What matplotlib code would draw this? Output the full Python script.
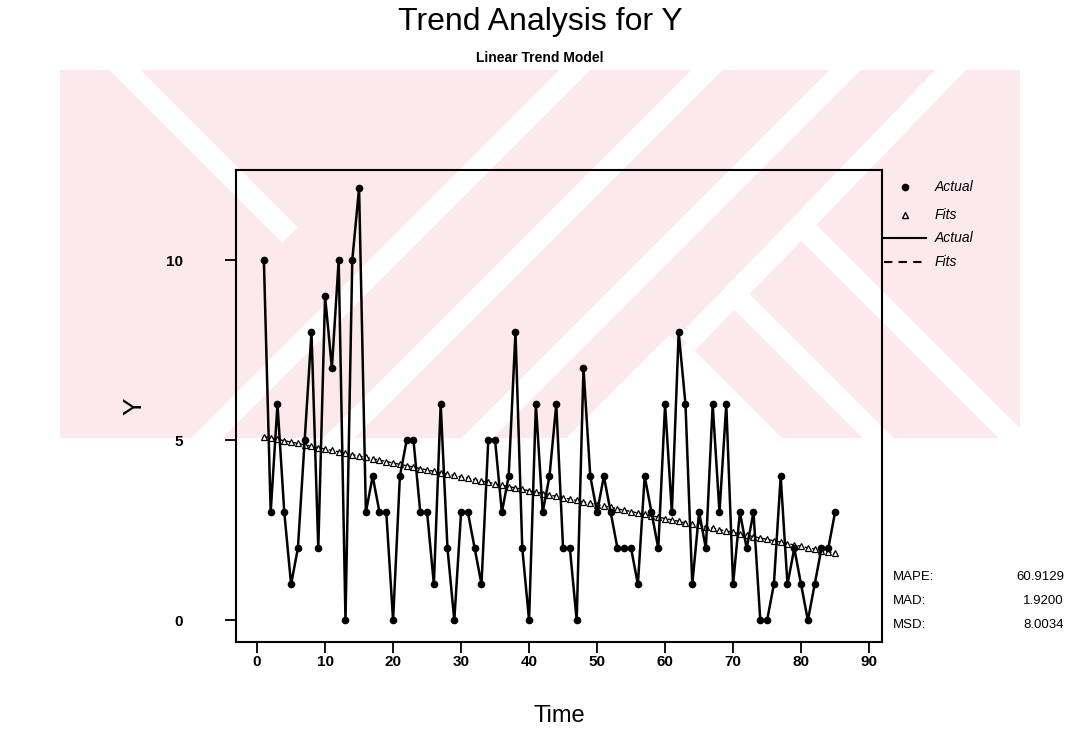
import numpy as np
import matplotlib.pyplot as plt
from matplotlib.lines import Line2D
from matplotlib.patches import Polygon, Rectangle

# observations (Y) by time index
time = np.arange(1, 86)
actual = [10, 3, 6, 3, 1, 2, 5, 8, 2, 9,
          7, 10, 0, 10, 12, 3, 4, 3, 3, 0,
          4, 5, 5, 3, 3, 1, 6, 2, 0, 3,
          3, 2, 1, 5, 5, 3, 4, 8, 2, 0,
          6, 3, 4, 6, 2, 2, 0, 7, 4, 3,
          4, 3, 2, 2, 2, 1, 4, 3, 2, 6,
          3, 8, 6, 1, 3, 2, 6, 3, 6, 1,
          3, 2, 3, 0, 0, 1, 4, 1, 2, 1,
          0, 1, 2, 2, 3]

x_ticks = [0, 10, 20, 30, 40, 50, 60, 70, 80, 90]
y_ticks = [0, 5, 10]
metric_names = ["MAPE:", "MAD:", "MSD:"]
metric_values = ["60.9129", "1.9200", "8.0034"]

W, H = 1079, 745
FONT = ["Liberation Sans", "DejaVu Sans"]
NARROW = ["Liberation Sans Narrow", "Liberation Sans", "DejaVu Sans"]
PINK = "#fce9ec"

slope, intercept = np.polyfit(time, actual, 1)
fits = intercept + slope * time

fig = plt.figure(figsize=(W / 100, H / 100), dpi=100)


def px(x, y):
    # pixel position (y measured from top) -> figure fraction
    return (x / W, 1 - y / H)


# faint watermark behind the chart
clip = Rectangle(px(60, 438), 960 / W, 368 / H, transform=fig.transFigure)
fig.add_artist(Rectangle(px(60, 438), 960 / W, 368 / H, transform=fig.transFigure,
                         facecolor=PINK, edgecolor="none", zorder=-2))


def stripe(p0, p1, w):
    dx, dy = p1[0] - p0[0], p1[1] - p0[1]
    n = np.hypot(dx, dy)
    ox, oy = -dy / n * w / 2, dx / n * w / 2
    pts = [px(p0[0] + ox, p0[1] + oy), px(p1[0] + ox, p1[1] + oy),
           px(p1[0] - ox, p1[1] - oy), px(p0[0] - ox, p0[1] - oy)]
    poly = Polygon(pts, closed=True, transform=fig.transFigure,
                   facecolor="white", edgecolor="none", zorder=-1)
    poly.set_clip_path(clip)
    fig.add_artist(poly)


for c in [645, 777, 915]:
    stripe((c - 460, 460), (c - 50, 50), 22)
stripe((1020 - 460, 460), (1020 - 343, 343), 22)
stripe((687, 343), (1020 - 50, 50), 22)
stripe((737, 297), (900, 460), 22)
stripe((803, 227), (1040, 464), 22)
stripe((110, 55), (290, 235), 22)
wedge = Polygon([px(687, 343), px(590, 440), px(784, 440)], closed=True,
                transform=fig.transFigure, facecolor="white", edgecolor="none", zorder=-1)
wedge.set_clip_path(clip)
fig.add_artist(wedge)

ax = fig.add_axes([236 / W, 1 - 642 / H, 646 / W, 472 / H])
ax.set_facecolor("none")

ax.plot(time, actual, color="black", lw=1.8, marker="o", ms=4.5, zorder=3)
ax.plot(time, fits, color="black", lw=1.0, ls="--", marker="^", ms=4.5,
        mfc="white", mec="black", mew=0.9, zorder=2)

ax.set_xlim(-3.1, 91.9)
ax.set_ylim(-0.6, 12.5)
ax.set_xticks(x_ticks)
ax.set_yticks(y_ticks)
ax.tick_params(axis="x", direction="out", length=8, width=1.3, pad=1)
ax.tick_params(axis="y", direction="out", length=8, width=1.3, pad=30)
for lab in ax.get_xticklabels() + ax.get_yticklabels():
    lab.set_family(NARROW)
    lab.set_fontsize(11)
    lab.set_fontweight("bold")
for s in ax.spines.values():
    s.set_linewidth(1.5)

ax.set_xlabel("Time", family=FONT, fontsize=17, labelpad=26)
ax.set_ylabel("Y", family=FONT, fontsize=19, labelpad=14)

fig.text(540 / W, 1 - 22 / H, "Trend Analysis for Y", ha="center", va="center",
         family=FONT, fontsize=23)
fig.text(540 / W, 1 - 58 / H, "Linear Trend Model", ha="center", va="center",
         family=NARROW, fontsize=10, fontweight="bold")

# legend to the right of the frame
leg_y = [187, 215, 238, 262]
fig.add_artist(Line2D([905 / W], [1 - leg_y[0] / H], transform=fig.transFigure,
                      marker="o", ms=4.5, color="black", ls="none"))
fig.add_artist(Line2D([905 / W], [1 - leg_y[1] / H], transform=fig.transFigure,
                      marker="^", ms=4.5, mfc="white", mec="black", ls="none"))
fig.add_artist(Line2D([884 / W, 926 / W], [1 - leg_y[2] / H] * 2,
                      transform=fig.transFigure, color="black", lw=1.5))
fig.add_artist(Line2D([884 / W, 926 / W], [1 - leg_y[3] / H] * 2,
                      transform=fig.transFigure, color="black", lw=1.5, ls=(0, (4, 3))))
for y, label in zip(leg_y, ["Actual", "Fits", "Actual", "Fits"]):
    fig.text(935 / W, 1 - y / H, label, ha="left", va="center",
             family=NARROW, fontsize=10, style="italic")

# accuracy measures
for i, (name, val) in enumerate(zip(metric_names, metric_values)):
    y = 1 - (577 + 24 * i) / H
    fig.text(893 / W, y, name, ha="left", va="center", family=NARROW, fontsize=9.5)
    fig.text(1064 / W, y, val, ha="right", va="center", family=NARROW, fontsize=9.5)

fig.savefig("out.png", dpi=100)
